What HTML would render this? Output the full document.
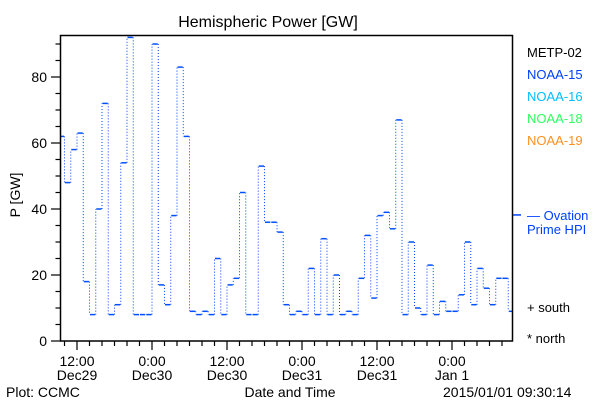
<!DOCTYPE html>
<html><head><meta charset="utf-8"><style>
body{margin:0;background:#fff}
svg{display:block;font-family:"Liberation Sans",sans-serif}
</style></head><body>
<svg id="chart" width="600" height="400" viewBox="0 0 600 400">
<rect width="600" height="400" fill="#fff"/>
<text x="268" y="27" font-size="16" text-anchor="middle">Hemispheric Power [GW]</text>
<text x="0" y="0" font-size="14" text-anchor="middle" transform="translate(20,195) rotate(-90)">P [GW]</text>
<g id="yaxis"></g>
<g id="xaxis"></g>
<g id="series"></g>
<rect x="60.5" y="35.5" width="452" height="305.5" fill="none" stroke="#000" stroke-width="1.5"/>
<text x="290" y="397" font-size="14" text-anchor="middle">Date and Time</text>
<text x="6" y="397" font-size="14">Plot: CCMC</text>
<text x="443" y="397" font-size="14">2015/01/01 09:30:14</text>
<g font-size="13">
<text x="527" y="57" fill="#000">METP-02</text>
<text x="527" y="79" fill="#0040ff">NOAA-15</text>
<text x="527" y="101" fill="#00c0ff">NOAA-16</text>
<text x="527" y="123" fill="#30ff60">NOAA-18</text>
<text x="527" y="145" fill="#ff9020">NOAA-19</text>
<line id="ovm" x1="513" x2="521" y1="215" y2="215" stroke="#0040ff" stroke-width="1.5"/>
<text x="527" y="220" fill="#0040ff">— Ovation</text>
<text x="527" y="234" fill="#0040ff">Prime HPI</text>
<text x="527" y="312" fill="#000">+ south</text>
<text x="527" y="343" fill="#000">* north</text>
</g>
</svg>
<script>
const hourlyPower = [62,48,58,63,18,8,40,72,8,11,54,92,8,8,8,90,17,11,38,83,62,9,8,9,8,25,8,17,19,45,8,8,53,36,36,33,11,8,9,8,22,8,31,8,20,8,9,8,19,32,13,38,39,34,67,8,30,10,8,23,8,12,9,9,14,30,11,22,16,11,19,19,9];
const yTicks = [0,20,40,60,80];
const xTickLabels = [["12:00","Dec29"],["0:00","Dec30"],["12:00","Dec30"],["0:00","Dec31"],["12:00","Dec31"],["0:00","Jan 1"]];
const xTickHours = [3,15,27,39,51,63];
const ovationValue = 38.2;

const NS="http://www.w3.org/2000/svg";
const L=60.5,R=512.5,T=35.5,B=341;
const y=v=>B-v*3.3;
const x=h=>58.25+6.25*h;
function mk(tag,attrs,parent){const e=document.createElementNS(NS,tag);for(const k in attrs)e.setAttribute(k,attrs[k]);parent.appendChild(e);return e;}
const ya=document.getElementById('yaxis'),xa=document.getElementById('xaxis'),sg=document.getElementById('series');
for(let v=0;v<=90;v+=5){
  const major=v%20===0;
  const t=mk('line',{x1:major?51:55.5,x2:L,y1:y(v),y2:y(v),stroke:'#000','stroke-width':1.2},ya);
  
  
}
yTicks.forEach(v=>{
  const t=mk('text',{x:47,y:y(v)+5,'font-size':14,'text-anchor':'end'},ya);
  t.textContent=v;
  
  
});
for(let h=1;x(h)<=R;h+=2){
  const major=xTickHours.includes(h);
  const t=mk('line',{x1:x(h),x2:x(h),y1:B,y2:major?350:346,stroke:'#000','stroke-width':1.2},xa);
  
  
}
xTickLabels.forEach((lab,i)=>{
  const cx=x(xTickHours[i]);
  const t1=mk('text',{x:cx,y:366,'font-size':14,'text-anchor':'middle'},xa);
  t1.textContent=lab[0];
  
  
  const t2=mk('text',{x:cx,y:380,'font-size':14,'text-anchor':'middle'},xa);
  t2.textContent=lab[1];
  
  
});
const clip=mk('clipPath',{id:'pc'},sg);
mk('rect',{x:L,y:T,width:R-L,height:B-T},clip);
sg.setAttribute('clip-path','url(#pc)');
hourlyPower.forEach((v,i)=>{
  const s=mk('line',{x1:x(i)+0.5,x2:x(i+1)-0.5,y1:y(v),y2:y(v),stroke:'#0050ff','stroke-width':1.5},sg);
  
  
  if(i<hourlyPower.length-1){
    const c=mk('line',{x1:x(i+1),x2:x(i+1),y1:y(v),y2:y(hourlyPower[i+1]),stroke:'#0040ff','stroke-width':1,'stroke-dasharray':'1 2'},sg);
    
    
  }
});
const om=document.getElementById('ovm');om.setAttribute('y1',y(ovationValue));om.setAttribute('y2',y(ovationValue));
</script>
</body></html>
